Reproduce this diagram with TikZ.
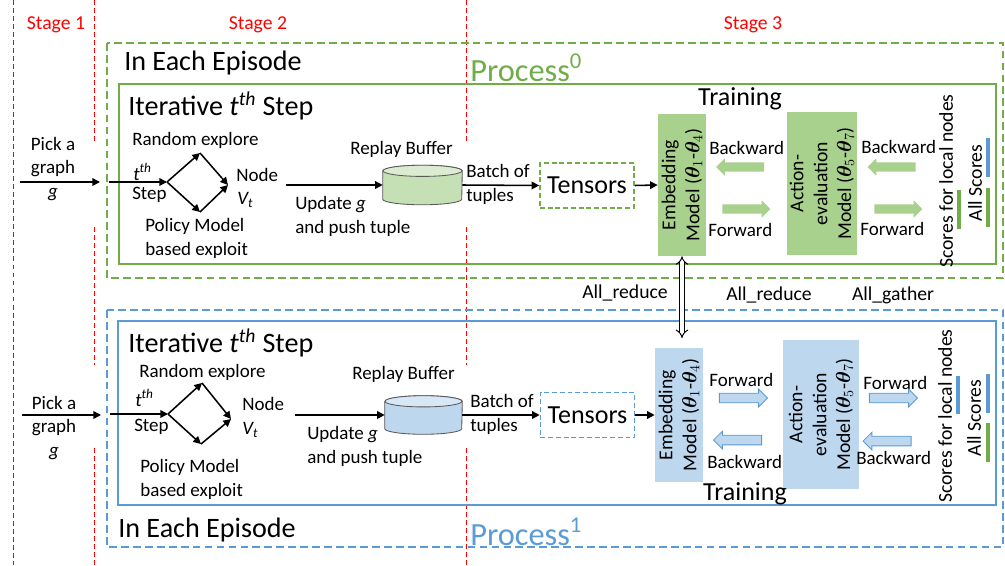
\documentclass[tikz,border=0pt]{standalone}
\usepackage{amsmath,amssymb,bm}
\usepackage{fontspec}
\setmainfont{Carlito}
\usepackage{tikz}
\usetikzlibrary{positioning,arrows.meta,calc,shapes.geometric,shapes.arrows}
\definecolor{cRed}{HTML}{FF0000}
\definecolor{cGrn}{HTML}{70AD47}
\definecolor{cGrnFill}{HTML}{A9D18E}
\definecolor{cGrnCyl}{HTML}{C5E0B4}
\definecolor{cBlu}{HTML}{5B9BD5}
\definecolor{cBluFill}{HTML}{BDD7EE}
\tikzset{
  fig/stage/.style  ={text=cRed, font=\fontsize{14}{16}\selectfont, inner sep=0pt},
  fig/stageline/.style={cRed, line width=0.7pt, dash pattern=on 3.5pt off 2.2pt},
  fig/outer/.style  ={line width=1.1pt, dash pattern=on 5.5pt off 3pt},
  fig/inner/.style  ={line width=1.4pt},
  fig/head/.style   ={font=\fontsize{20}{24}\selectfont, inner sep=0pt, anchor=west},
  fig/proc/.style   ={font=\fontsize{23}{26}\selectfont, inner sep=0pt, anchor=west},
  fig/big/.style    ={font=\fontsize{18.5}{22}\selectfont, inner sep=0pt},
  fig/lbl/.style    ={font=\fontsize{13.5}{17}\selectfont, inner sep=0pt, align=left},
  fig/arr/.style    ={-{Triangle[length=1.9mm, width=1.9mm]}, line width=1.1pt},
  fig/dblarr/.style ={{Implies}-{Implies}, double, double distance=2.4pt, line width=0.7pt},
  fig/bufbox/.style ={minimum width=1.975cm, minimum height=0.975cm, inner sep=0pt},
  fig/cyl/.style    ={draw=black!65, line width=0.6pt},
  fig/tensor/.style ={draw, line width=1.1pt, dash pattern=on 3.5pt off 2pt,
                      minimum width=2.35cm, minimum height=1.125cm,
                      font=\fontsize{18.5}{22}\selectfont, inner sep=0pt},
  fig/model/.style  ={rotate=90, align=center, inner sep=0pt,
                      font=\fontsize{14}{17}\selectfont},
  fig/barrow/.style ={single arrow, minimum height=1.2cm, inner xsep=0pt,
                      inner ysep=0.11cm, single arrow head extend=0.1cm},
  fig/gbar/.style   ={fig/barrow, fill=cGrnFill},
  fig/bbar/.style   ={fig/barrow, fill=cBluFill, draw=cBlu, line width=0.6pt},
  fig/score/.style  ={line width=2.6pt},
  fig/note/.style   ={font=\fontsize{14}{16}\selectfont, inner sep=0pt}
}
\begin{document}
\begin{tikzpicture}[x=0.025cm, y=-0.025cm]
    \useasboundingbox (0,0) rectangle (1005,565);

    % --- stages ---
    \draw[fig/stageline] (13,0) -- (13,565);
    \draw[fig/stageline] (94,0) -- (94,142) (94,227) -- (94,365) (94,448) -- (94,565);
    \draw[fig/stageline] (466,0) -- (466,142) (466,227) -- (466,365) (466,448) -- (466,565);
    \node[fig/stage] (s1) at (56,25) {Stage 1};
    \node[fig/stage] (s2) at (258,25) {Stage 2};
    \node[fig/stage] (s3) at (753,25) {Stage 3};

    % --- process 0 (green) ---
    \draw[fig/outer, cGrn] (107,43) rectangle (1003,278);
    \draw[fig/inner, cGrn] (119,84) rectangle (996,264);
    \node[fig/head] (ep0) at (124,63) {In Each Episode};
    \node[fig/proc, text=cGrn] (pr0) at (470,68) {Process\textsuperscript{0}};
    \node[fig/head] (it0) at (128,106) {Iterative \textit{t\textsuperscript{th}} Step};

    \node[fig/lbl, align=center] (pick0) at (53,169) {Pick a\\graph\\\textit{g}};
    \coordinate (in0) at (20,182);
    \coordinate (got0) at (100,182);
    \coordinate (ent0) at (109,182);
    \coordinate (st0) at (167,182);
    \coordinate (re0) at (200,153);
    \coordinate (nd0) at (228,185);
    \coordinate (pm0) at (200,212);
    \draw[fig/arr] (in0) -- (got0);
    \draw[fig/arr] (ent0) -- (st0);
    \draw[fig/arr] (st0) -- (re0);
    \draw[fig/arr] (re0) -- (nd0);
    \draw[fig/arr] (st0) -- (pm0);
    \draw[fig/arr] (pm0) -- (nd0);
    \node[fig/lbl, anchor=west] (rand0) at (132,140) {Random explore};
    \node[fig/lbl, anchor=west] (tth0) at (133,172) {\textit{t\textsuperscript{th}}};
    \node[fig/lbl, anchor=west] (step0) at (132,195) {Step};
    \node[fig/lbl, anchor=west] (node0) at (236,175) {Node};
    \node[fig/lbl, anchor=west] (vt0) at (237,200) {\textit{V\textsubscript{t}}};
    \node[fig/lbl, anchor=west] (pol0) at (145,238) {Policy Model\\based exploit};

    % replay buffer
    \node[fig/bufbox] (buf0) at (422.5,185) {};
    \draw[fig/cyl, fill=cGrnCyl] ([yshift=-0.14cm]buf0.north west)
        -- ([yshift=0.14cm]buf0.south west)
        arc[start angle=180, end angle=360, x radius=0.9875cm, y radius=0.14cm]
        -- ([yshift=-0.14cm]buf0.north east)
        arc[start angle=0, end angle=180, x radius=0.9875cm, y radius=0.14cm] -- cycle;
    \draw[fig/cyl, fill=cGrnCyl!60!white] ([yshift=-0.14cm]buf0.north)
        ellipse[x radius=0.9875cm, y radius=0.14cm];
    \node[fig/lbl, anchor=west] (rb0) at (350,149) {Replay Buffer};
    \coordinate (up0) at (286,185);
    \draw[fig/arr] (up0) -- (buf0.west);
    \node[fig/lbl, anchor=west] (upd0) at (295,216) {Update \textit{g}\\and push tuple};
    \node[fig/lbl, anchor=west] (bat0) at (466,184) {Batch of\\tuples};

    % training
    \node[fig/tensor, draw=cGrn] (ten0) at (587,185.5) {Tensors};
    \draw[fig/arr] (buf0.east) -- (ten0.west);
    \node[fig/model, fill=cGrnFill, minimum width=3.55cm, minimum height=1.2cm] (emb0)
         at (682,185) {Embedding\\Model (${\bm\theta}_1$-${\bm\theta}_4$)};
    \draw[fig/arr] (ten0.east) -- (emb0.north);
    \node[fig/model, fill=cGrnFill, minimum width=3.575cm, minimum height=1.75cm] (act0)
         at (822,183.5) {Action-\\evaluation\\Model (${\bm\theta}_5$-${\bm\theta}_7$)};
    \node[fig/big] (tr0) at (740,99) {Training};
    \node[fig/gbar, shape border rotate=180] (bw0) at (742.5,167) {};
    \node[fig/gbar] (fw0) at (744,209) {};
    \node[fig/gbar, shape border rotate=180] (bw0b) at (894,167) {};
    \node[fig/gbar] (fw0b) at (896,209) {};
    \node[fig/lbl, anchor=west] (bwl0) at (709,148) {Backward};
    \node[fig/lbl, anchor=west] (fwl0) at (708,230) {Forward};
    \node[fig/lbl, anchor=west] (bwl0b) at (861,147) {Backward};
    \node[fig/lbl, anchor=west] (fwl0b) at (860,229) {Forward};
    \node[fig/note, rotate=90] (loc0) at (946,181) {Scores for local nodes};
    \node[fig/note, rotate=90] (all0) at (975,183) {All Scores};
    \draw[fig/score, cGrn] (959,190) -- (959,229);
    \draw[fig/score, cBlu] (988,138) -- (988,177);
    \draw[fig/score, cGrn] (988,188) -- (988,227);

    % --- communication ---
    \node[fig/note] (red1) at (625,293) {All\_reduce};
    \node[fig/note] (red2) at (769,295) {All\_reduce};
    \node[fig/note] (gat) at (893,295) {All\_gather};

    % --- process 1 (blue) ---
    \draw[fig/outer, cBlu] (107,310) rectangle (1003,547);
    \draw[fig/inner, cBlu] (118,321) rectangle (996,505);
    \node[fig/head] (ep1) at (118,530) {In Each Episode};
    \node[fig/proc, text=cBlu] (pr1) at (470,532) {Process\textsuperscript{1}};
    \node[fig/head] (it1) at (128,343) {Iterative \textit{t\textsuperscript{th}} Step};

    \node[fig/lbl, align=center] (pick1) at (54,428) {Pick a\\graph\\\textit{g}};
    \coordinate (in1) at (22,415);
    \coordinate (got1) at (101,415);
    \coordinate (ent1) at (110,414);
    \coordinate (st1) at (168,414);
    \coordinate (re1) at (202,383);
    \coordinate (nd1) at (231,419);
    \coordinate (pm1) at (201,444);
    \draw[fig/arr] (in1) -- (got1);
    \draw[fig/arr] (ent1) -- (st1);
    \draw[fig/arr] (st1) -- (re1);
    \draw[fig/arr] (re1) -- (nd1);
    \draw[fig/arr] (st1) -- (pm1);
    \draw[fig/arr] (pm1) -- (nd1);
    \node[fig/lbl, anchor=west] (rand1) at (139,372) {Random explore};
    \node[fig/lbl, anchor=west] (tth1) at (135,398) {\textit{t\textsuperscript{th}}};
    \node[fig/lbl, anchor=west] (step1) at (134,427) {Step};
    \node[fig/lbl, anchor=west] (node1) at (242,404) {Node};
    \node[fig/lbl, anchor=west] (vt1) at (242,430) {\textit{V\textsubscript{t}}};
    \node[fig/lbl, anchor=west] (pol1) at (140,479) {Policy Model\\based exploit};

    \node[fig/bufbox, minimum width=1.925cm, minimum height=0.95cm] (buf1) at (423.5,415) {};
    \draw[fig/cyl, fill=cBluFill] ([yshift=-0.14cm]buf1.north west)
        -- ([yshift=0.14cm]buf1.south west)
        arc[start angle=180, end angle=360, x radius=0.9625cm, y radius=0.14cm]
        -- ([yshift=-0.14cm]buf1.north east)
        arc[start angle=0, end angle=180, x radius=0.9625cm, y radius=0.14cm] -- cycle;
    \draw[fig/cyl, fill=cBluFill!60!white] ([yshift=-0.14cm]buf1.north)
        ellipse[x radius=0.9625cm, y radius=0.14cm];
    \node[fig/lbl, anchor=west] (rb1) at (352,374) {Replay Buffer};
    \coordinate (up1) at (295,415);
    \draw[fig/arr] (up1) -- (buf1.west);
    \node[fig/lbl, anchor=west] (upd1) at (307,446) {Update \textit{g}\\and push tuple};
    \node[fig/lbl, anchor=west] (bat1) at (470,414) {Batch of\\tuples};

    \node[fig/tensor, draw=cBlu] (ten1) at (587.5,415) {Tensors};
    \draw[fig/arr] (buf1.east) -- (ten1.west);
    \node[fig/model, fill=cBluFill, minimum width=3.35cm, minimum height=1.2cm] (emb1)
         at (679,415) {Embedding\\Model (${\bm\theta}_1$-${\bm\theta}_4$)};
    \draw[fig/arr] (ten1.east) -- (emb1.north);
    \node[fig/model, fill=cBluFill, minimum width=3.725cm, minimum height=1.9cm] (act1)
         at (821,414.5) {Action-\\evaluation\\Model (${\bm\theta}_5$-${\bm\theta}_7$)};
    \node[fig/big] (tr1) at (745,494) {Training};
    \node[fig/bbar] (fw1) at (741,398) {};
    \node[fig/bbar, shape border rotate=180] (bw1) at (740,440) {};
    \node[fig/bbar] (fw1b) at (891,398) {};
    \node[fig/bbar, shape border rotate=180] (bw1b) at (889.5,441) {};
    \node[fig/lbl, anchor=west] (fwl1) at (709,380) {Forward};
    \node[fig/lbl, anchor=west] (bwl1) at (707,462) {Backward};
    \node[fig/lbl, anchor=west] (fwl1b) at (863,383) {Forward};
    \node[fig/lbl, anchor=west] (bwl1b) at (856,458) {Backward};
    \node[fig/note, rotate=90] (loc1) at (945,416) {Scores for local nodes};
    \node[fig/note, rotate=90] (all1) at (974,418) {All Scores};
    \draw[fig/score, cBlu] (958,376) -- (958,414);
    \draw[fig/score, cBlu] (988,374) -- (988,413);
    \draw[fig/score, cGrn] (988,423) -- (988,462);

    % --- gradient exchange between processes ---
    \coordinate (xch) at (680,338);
    \draw[fig/dblarr] (emb0.west) -- (emb0.west |- xch);
  \end{tikzpicture}
\end{document}
